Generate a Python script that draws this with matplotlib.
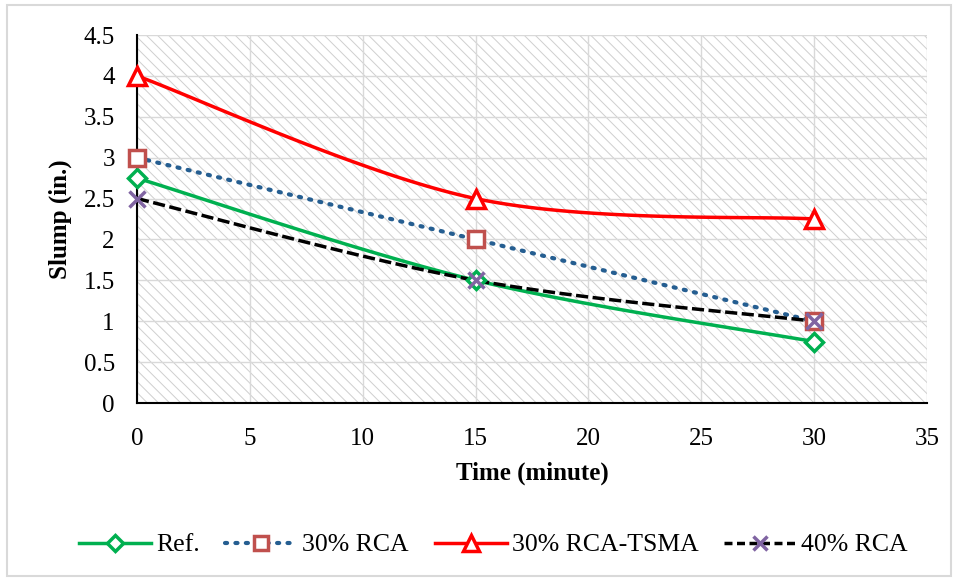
import numpy as np
import matplotlib
matplotlib.use("Agg")
import matplotlib.pyplot as plt
from matplotlib.patches import Rectangle
from matplotlib.lines import Line2D

time = [0, 15, 30]
ref = [2.75, 1.5, 0.75]
rca30 = [3.0, 2.0, 1.0]
tsma30 = [4.0, 2.5, 2.25]
rca40 = [2.5, 1.5, 1.0]
xticks = [0, 5, 10, 15, 20, 25, 30, 35]
yticks = [0, 0.5, 1, 1.5, 2, 2.5, 3, 3.5, 4, 4.5]

plt.rcParams['font.family'] = ['Liberation Serif', 'DejaVu Serif']
plt.rcParams['hatch.linewidth'] = 0.7
plt.rcParams['hatch.color'] = '#cfcfcf'


def smooth(x, y, n=60):
    """Catmull-Rom style smoothing (similar to Excel smoothed lines)."""
    x = np.asarray(x, float)
    y = np.asarray(y, float)
    px = np.concatenate([[x[0]], x, [x[-1]]])
    py = np.concatenate([[y[0]], y, [y[-1]]])
    xs, ys = [], []
    for i in range(1, len(px) - 2):
        p0 = np.array([px[i - 1], py[i - 1]])
        p1 = np.array([px[i], py[i]])
        p2 = np.array([px[i + 1], py[i + 1]])
        p3 = np.array([px[i + 2], py[i + 2]])
        c1 = p1 + (p2 - p0) / 6
        c2 = p2 - (p3 - p1) / 6
        t = np.linspace(0, 1, n)[:, None]
        pts = ((1 - t) ** 3) * p1 + 3 * ((1 - t) ** 2) * t * c1 + 3 * (1 - t) * t ** 2 * c2 + t ** 3 * p2
        xs.extend(pts[:, 0]); ys.extend(pts[:, 1])
    return np.array(xs), np.array(ys)


fig = plt.figure(figsize=(9.58, 5.80), dpi=100)
fig.patches.append(Rectangle((7 / 958, 4 / 580), 944 / 958, 571 / 580, transform=fig.transFigure,
                             fill=False, edgecolor='#d9d9d9', linewidth=1.5))
ax = fig.add_axes([137 / 958, 1 - 403 / 580, (927 - 137) / 958, (403 - 35) / 580])
ax.add_patch(Rectangle((0, 0), 1, 1, transform=ax.transAxes, facecolor='white',
                       hatch='\\\\\\', edgecolor='#cfcfcf', linewidth=0, zorder=0))
ax.set_xlim(0, 35)
ax.set_ylim(0, 4.5)
ax.set_xticks(xticks)
ax.set_yticks(yticks)
ax.set_yticklabels([f'{v:g}' for v in yticks])
ax.grid(True, color='#d9d9d9', linewidth=1.0, zorder=1)
ax.set_axisbelow(True)
for s in ['top', 'right']:
    ax.spines[s].set_visible(False)
for s in ['left', 'bottom']:
    ax.spines[s].set_color('black')
    ax.spines[s].set_linewidth(1.5)
ax.tick_params(axis='both', length=0, labelsize=18)
ax.tick_params(axis='y', pad=16)
ax.tick_params(axis='x', pad=18)
ax.set_xlabel('Time (minute)', fontsize=18, fontweight='bold', labelpad=8)
ax.set_ylabel('Slump (in.)', fontsize=18, fontweight='bold', labelpad=8)

series = [
    (ref, 'Ref.', '#00B050', '-', 'D', '#00B050', 9.5, 2.5),
    (rca30, '30% RCA', '#255E91', (0, (0.5, 2.0)), 's', '#C0504D', 11.5, 3.0),
    (tsma30, '30% RCA-TSMA', '#FF0000', '-', '^', '#FF0000', 13, 2.5),
    (rca40, '40% RCA', 'black', (0, (3.5, 1.3)), 'x', '#8064A2', 12, 2.5),
]
handles = []
for y, lab, col, ls, mk, mcol, ms, lw in series:
    sx, sy = smooth(time, y)
    cap = 'round' if lab == '30% RCA' else 'butt'
    ax.plot(sx, sy, color=col, linestyle=ls, linewidth=lw, zorder=3, solid_capstyle='round',
            dash_capstyle=cap)
    ax.plot(time, y, linestyle='none', marker=mk, markersize=ms, markeredgecolor=mcol,
            markerfacecolor='white' if mk != 'x' else mcol, markeredgewidth=2.5, zorder=4,
            clip_on=False)
    hls = (0, (2.3, 1.3)) if lab == '40% RCA' else ls
    handles.append(Line2D([0], [0], color=col, linestyle=hls, linewidth=lw, marker=mk,
                          markersize=ms - 1.5, markeredgecolor=mcol,
                          markerfacecolor='white' if mk != 'x' else mcol, markeredgewidth=2.5,
                          dash_capstyle=cap))

fig.legend(handles, [s[1] for s in series], loc='center', bbox_to_anchor=(0.515, 1 - 545 / 580),
           ncol=4, frameon=False, fontsize=18.5, handlelength=2.8, handletextpad=0.2,
           columnspacing=1.0)

fig.savefig('out.png', dpi=100)
